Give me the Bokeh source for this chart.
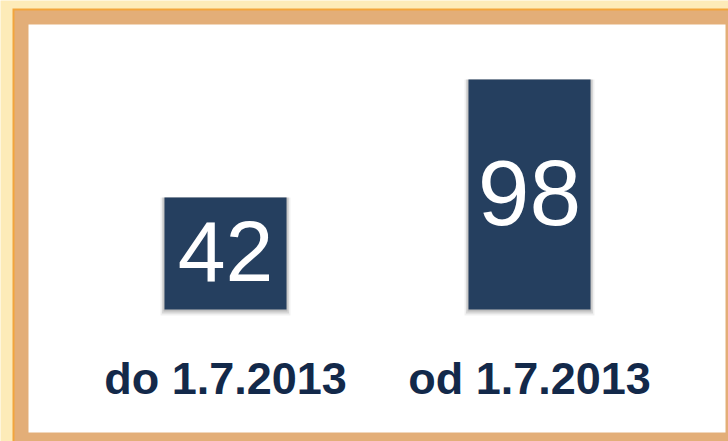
from bokeh.plotting import figure
from bokeh.models import Range1d, ColumnDataSource
from bokeh.core.properties import value
from bokeh.embed import file_html
from bokeh.resources import INLINE

categories = ["do 1.7.2013", "od 1.7.2013"]
values = [42, 98]
value_font_sizes = ["86px", "93px"]

W, H = 728, 441
# scale derived from picture: px per unit and baseline
K = 118 / 56.0
ZERO_PX = 285.5
BAR_PITCH = 304.0
FIRST_CENTER_PX = 225.0

X0 = -FIRST_CENTER_PX / BAR_PITCH
X1 = X0 + W / BAR_PITCH
Y1 = ZERO_PX / K
Y0 = (ZERO_PX - H) / K
BASE = (ZERO_PX - 309) / K


def px_x(px):
    return X0 + px / BAR_PITCH


def px_y(py):
    return Y1 - py / K


xs = list(range(len(categories)))
mids = [(v + BASE) / 2 for v in values]
src = ColumnDataSource(dict(x=xs, top=values, cat=categories, mid=mids,
                            lab=[str(v) for v in values], fs=value_font_sizes))

p = figure(width=W, height=H, output_backend="svg", toolbar_location=None,
           x_range=Range1d(X0, X1), y_range=Range1d(Y0, Y1),
           min_border=0, min_border_left=0, min_border_right=0,
           min_border_top=0, min_border_bottom=0)
p.axis.visible = False
p.grid.visible = False
p.outline_line_color = None
p.background_fill_color = "#FDEBB8"
p.border_fill_color = "#FDEBB8"

# frame decoration (border)
p.quad(left=[px_x(12)], right=[px_x(W + 5)], top=[px_y(8)], bottom=[px_y(H + 5)],
       fill_color="#F2A53C", line_color=None)
p.quad(left=[px_x(14)], right=[px_x(W + 5)], top=[px_y(10)], bottom=[px_y(H + 5)],
       fill_color="#E3AE78", line_color=None)
p.quad(left=[px_x(28)], right=[px_x(725)], top=[px_y(24)], bottom=[px_y(432)],
       fill_color="#FFFFFF", line_color=None)

bw = 122 / BAR_PITCH
# soft shadows
p.vbar(x="x", top="top", bottom=BASE - 6 / K, width=bw + 8 / BAR_PITCH, source=src,
       fill_color="#000000", fill_alpha=0.06, line_color=None)
p.vbar(x="x", top="top", bottom=BASE - 4 / K, width=bw + 5 / BAR_PITCH, source=src,
       fill_color="#000000", fill_alpha=0.10, line_color=None)
p.vbar(x="x", top="top", bottom=BASE - 2 / K, width=bw + 2 / BAR_PITCH, source=src,
       fill_color="#000000", fill_alpha=0.12, line_color=None)
p.vbar(x="x", top="top", bottom=BASE, width=bw, source=src,
       fill_color="#253F5F", line_color=None)

p.text(x="x", y="mid", text="lab", source=src, text_color="#FFFFFF",
       text_font=value("Liberation Sans"), text_font_size="fs",
       text_align="center", text_baseline="alphabetic", y_offset=-2)

p.text(x="x", y=BASE, text="cat", source=src, text_color="#13294A",
       text_font=value("Liberation Sans"), text_font_style="bold",
       text_font_size="45px", text_align="center", text_baseline="alphabetic",
       y_offset=69)

open("out.html", "w").write(file_html(p, INLINE))
